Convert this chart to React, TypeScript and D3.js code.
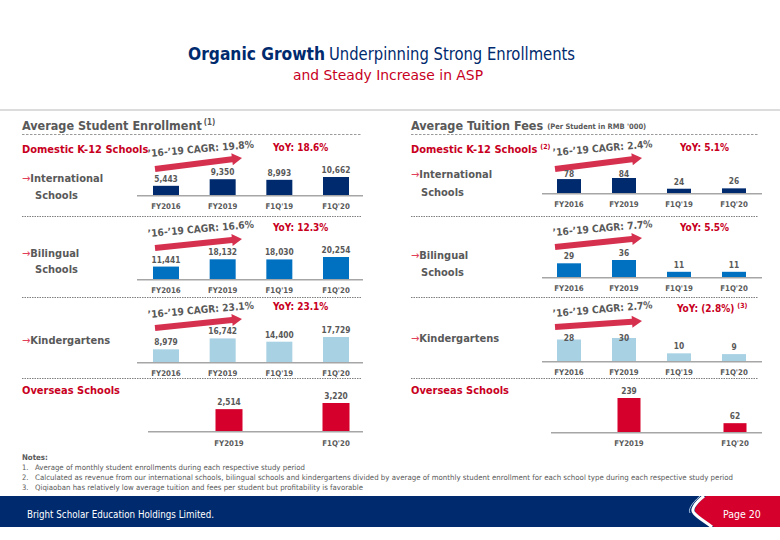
import React from "react";
import * as d3 from "d3";

// ---------- data ----------
const categories = ["FY2016", "FY2019", "F1Q'19", "F1Q'20"];
const overseasCategories = ["FY2019", "F1Q'20"];

const enrollInternational = [5443, 9350, 8993, 10662];
const enrollBilingual = [11441, 18132, 18030, 20254];
const enrollKindergarten = [8979, 16742, 14400, 17729];
const enrollOverseas = [2514, 3220];
const enrollCagr = ["19.8%", "16.6%", "23.1%"];
const enrollYoy = ["18.6%", "12.3%", "23.1%"];

const feeInternational = [78, 84, 24, 26];
const feeBilingual = [29, 36, 11, 11];
const feeKindergarten = [28, 30, 10, 9];
const feeOverseas = [239, 62];
const feeCagr = ["2.4%", "7.7%", "2.7%"];
const feeYoy = ["5.1%", "5.5%", "(2.8%)"];

const rowLabels = [["International", "Schools"], ["Bilingual", "Schools"], ["Kindergartens"]];

const notes = [
  "Average of monthly student enrollments during each respective study period",
  "Calculated as revenue from our international schools, bilingual schools and kindergartens divided by average of monthly student enrollment for each school type during each respective study period",
  "Qiqiaoban has relatively low average tuition and fees per student but profitability is favorable",
];

// ---------- style ----------
const F = "'DejaVu Sans Condensed', 'DejaVu Sans', sans-serif";
const NAVY = "#002a6e";
const BLUE = "#0070c0";
const LIGHT = "#a8d1e4";
const RED = "#d5002b";
const TEXT_RED = "#c8001e";
const GRAY = "#595959";
const ARROW = "#d6304f";
const seriesColors = [NAVY, BLUE, LIGHT];

const fmt = d3.format(",");

type RowLayout = {
  base: number; a0: number; a1: number; cagrY: number; yoyY: number; yoyX: number;
  l1: number; l2: number; catY: number; hMax: number; minLabelY?: number;
};

const leftRows: RowLayout[] = [
  { base: 195, a0: 169, a1: 158, cagrY: 157, yoyY: 151, yoyX: 273, l1: 182, l2: 199, catY: 209, hMax: 18 },
  { base: 279, a0: 248, a1: 239, cagrY: 237, yoyY: 231, yoyX: 273, l1: 257, l2: 273, catY: 293, hMax: 22 },
  { base: 362, a0: 328, a1: 319, cagrY: 318, yoyY: 310, yoyX: 273, l1: 344, l2: 0, catY: 376, hMax: 25 },
];
const rightRows: RowLayout[] = [
  { base: 193, a0: 169, a1: 158, cagrY: 156, yoyY: 151, yoyX: 680, l1: 178, l2: 196, catY: 207, hMax: 15, minLabelY: 177 },
  { base: 277, a0: 247, a1: 238, cagrY: 236, yoyY: 231, yoyX: 680, l1: 259, l2: 276, catY: 291, hMax: 17 },
  { base: 361, a0: 327, a1: 321, cagrY: 317, yoyY: 312, yoyX: 677, l1: 342, l2: 0, catY: 375, hMax: 23, minLabelY: 341 },
];

function Arrow({ x0, y0, x1, y1 }: { x0: number; y0: number; x1: number; y1: number }) {
  const dx = x1 - x0, dy = y1 - y0;
  const len = Math.hypot(dx, dy);
  const ux = dx / len, uy = dy / len;
  const nx = -uy, ny = ux;
  const hl = 10, hw = 6, sw = 3;
  const bx = x1 - ux * hl, by = y1 - uy * hl;
  const pts = [
    [x0 + nx * sw, y0 + ny * sw],
    [bx + nx * sw, by + ny * sw],
    [bx + nx * hw, by + ny * hw],
    [x1, y1],
    [bx - nx * hw, by - ny * hw],
    [bx - nx * sw, by - ny * sw],
    [x0 - nx * sw, y0 - ny * sw],
  ];
  return <path d={d3.line()(pts as [number, number][]) + "Z"} fill={ARROW} />;
}

function Bars({ cats, values, xRange, barW, hMax, base, color, axis, catY, minLabelY }: {
  cats: string[]; values: number[]; xRange: [number, number]; barW: number; hMax: number; base: number;
  color: string; axis: [number, number]; catY: number; minLabelY?: number;
}) {
  const x = d3.scalePoint<string>().domain(cats).range(xRange);
  const y = d3.scaleLinear().domain([0, d3.max(values) as number]).range([base, base - hMax]);
  return (
    <g>
      {values.map((v, i) => {
        const cx = x(cats[i]) as number;
        const top = y(v);
        let ly = top - 4;
        if (minLabelY !== undefined) ly = Math.max(ly, minLabelY);
        return (
          <g key={i}>
            <rect x={cx - barW / 2} y={top} width={barW} height={base - top} fill={color} />
            <text x={cx} y={ly} textAnchor="middle" fontSize={8.3} fontWeight="bold" fill={GRAY}>{fmt(v)}</text>
            <text x={cx} y={catY} textAnchor="middle" fontSize={7.8} fontWeight="bold" fill={GRAY}>{cats[i]}</text>
          </g>
        );
      })}
      <line x1={axis[0]} x2={axis[1]} y1={base + 0.75} y2={base + 0.75} stroke="#a6a6a6" strokeWidth={1.5} />
    </g>
  );
}

function Section({ side }: { side: "left" | "right" }) {
  const L = side === "left";
  const lx = L ? 22 : 411;
  const rows = L ? leftRows : rightRows;
  const series = L ? [enrollInternational, enrollBilingual, enrollKindergarten] : [feeInternational, feeBilingual, feeKindergarten];
  const cagr = L ? enrollCagr : feeCagr;
  const yoy = L ? enrollYoy : feeYoy;
  const xRange: [number, number] = L ? [166, 336] : [569, 734];
  const barW = L ? 26 : 24;
  const axis: [number, number] = L ? [137, 363] : [542, 762];
  const cagrX = L ? 148 : 553;
  const arrowX: [number, number] = L ? [155, 242] : [555, 642];
  const lineEnd = L ? 362 : 758;
  return (
    <g>
      {L ? (
        <text x={lx} y={130} fontSize={12.5} fontWeight="bold" fill={GRAY}>
          Average Student Enrollment<tspan fontSize={8} dy={-5} dx={2}>(1)</tspan>
        </text>
      ) : (
        <text x={lx} y={130} fontSize={12.5} fontWeight="bold" fill={GRAY}>
          Average Tuition Fees<tspan fontSize={7.5} dx={4} dy={-1}>(Per Student in RMB '000)</tspan>
        </text>
      )}
      <line x1={lx} x2={lineEnd} y1={134.5} y2={134.5} stroke="#9a9a9a" strokeWidth={1} strokeDasharray="2.5,1.5" />
      <text x={lx} y={153} fontSize={11} fontWeight="bold" fill={TEXT_RED}>
        Domestic K-12 Schools{!L && <tspan fontSize={7} dy={-4} dx={3}>(2)</tspan>}
      </text>
      {rows.map((r, i) => (
        <g key={i}>
          <text x={cagrX} y={r.cagrY} fontSize={10.2} fontWeight="bold" fill={GRAY}
            transform={`rotate(-5 ${cagrX} ${r.cagrY})`}>{`\u201916-\u201919 CAGR: ${cagr[i]}`}</text>
          <Arrow x0={arrowX[0]} y0={r.a0} x1={arrowX[1]} y1={r.a1} />
          <text x={r.yoyX} y={r.yoyY} fontSize={10} fontWeight="bold" fill={TEXT_RED}>
            {`YoY: ${yoy[i]}`}{!L && i === 2 && <tspan fontSize={7} dy={-4} dx={3}>(3)</tspan>}
          </text>
          <text x={lx} y={r.l1} fontSize={11} fontWeight="bold" fill={GRAY}>
            <tspan fill="#e0405a" fontWeight="normal">{"\u2192"}</tspan>{rowLabels[i][0]}
          </text>
          {rowLabels[i][1] && (
            <text x={lx + (L ? 13 : 10)} y={r.l2} fontSize={11} fontWeight="bold" fill={GRAY}>{rowLabels[i][1]}</text>
          )}
          <Bars cats={categories} values={series[i]} xRange={xRange} barW={barW} hMax={r.hMax} base={r.base}
            color={seriesColors[i]} axis={axis} catY={r.catY} minLabelY={r.minLabelY} />
          <line x1={lx} x2={lineEnd} y1={[216.5, 297.5, 378.5][i]} y2={[216.5, 297.5, 378.5][i]}
            stroke="#7f7f7f" strokeWidth={1} strokeDasharray="1.5,1" />
        </g>
      ))}
      <text x={lx} y={394} fontSize={11} fontWeight="bold" fill={TEXT_RED}>Overseas Schools</text>
      <Bars cats={overseasCategories} values={L ? enrollOverseas : feeOverseas}
        xRange={L ? [229, 336] : [629, 735]} barW={L ? 27 : 23} hMax={L ? 28 : 34} base={L ? 431 : 432}
        color={RED} axis={L ? [148, 363] : [551, 762]} catY={446} />
    </g>
  );
}

export default function App() {
  return (
    <svg width={780} height={540} style={{ position: "absolute", left: 0, top: 0, background: "#fff" }}
      fontFamily={F} fontStretch="condensed">
      <rect width={780} height={540} fill="#fff" />
      <text x={188} y={60} fontSize={18} fontWeight="bold" fill={NAVY} textLength={137} lengthAdjust="spacingAndGlyphs">Organic Growth</text>
      <text x={329} y={60} fontSize={18} fill={NAVY} textLength={246} lengthAdjust="spacingAndGlyphs">Underpinning Strong Enrollments</text>
      <text x={293} y={80} fontSize={14} fill={TEXT_RED} textLength={190} lengthAdjust="spacingAndGlyphs">and Steady Increase in ASP</text>
      <line x1={0} x2={780} y1={110} y2={110} stroke="#dcdcdc" strokeWidth={2} />

      <Section side="left" />
      <Section side="right" />

      <text x={22} y={460} fontSize={7.8} fontWeight="bold" fill={GRAY}>Notes:</text>
      {notes.map((n, i) => (
        <g key={i}>
          <text x={22} y={470 + i * 10} fontSize={7.5} fill={GRAY}>{`${i + 1}.`}</text>
          <text x={35} y={470 + i * 10} fontSize={7.5} fill={GRAY}
            textLength={[270, 698, 328][i]} lengthAdjust="spacingAndGlyphs">{n}</text>
        </g>
      ))}

      <rect x={0} y={496} width={780} height={31} fill={NAVY} />
      <path d="M 706 496 C 696 504, 693 510, 696 513 C 700 518, 708 522, 714 527 L 780 527 L 780 496 Z" fill={RED} />
      <path d="M 704 496 C 694 504, 691 510, 694 513 C 698 518, 706 522, 712 527" fill="none" stroke="#fff" strokeWidth={3} />
      <path d="M 700 496 C 691 504, 688 510, 690 513" fill="none" stroke="#a9c4e0" strokeWidth={1} />
      <text x={27} y={518} fontSize={10} fill="#fff" textLength={187} lengthAdjust="spacingAndGlyphs">Bright Scholar Education Holdings Limited.</text>
      <text x={723} y={518} fontSize={10.5} fill="#fff">Page 20</text>
    </svg>
  );
}
